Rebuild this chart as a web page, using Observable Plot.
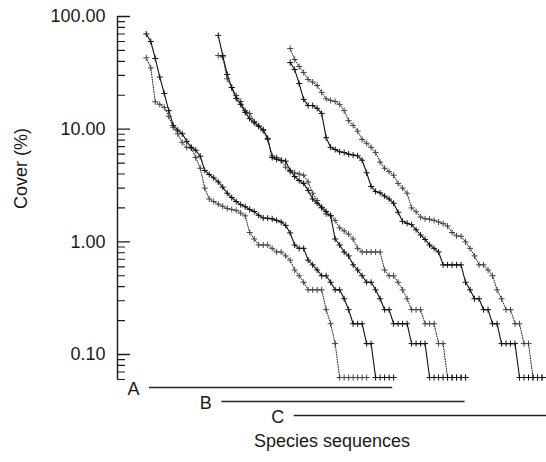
<!DOCTYPE html>
<html><head><meta charset="utf-8">
<script src="https://cdn.jsdelivr.net/npm/d3@7"></script>
<script src="https://cdn.jsdelivr.net/npm/@observablehq/plot@0.6"></script>
<style>
html,body{margin:0;padding:0;background:#fff;overflow:hidden;}
#chart{width:546px;height:462px;}
</style></head><body><div id="chart"></div>
<script>
// ---- data (cover %, by species rank) ----
const groups = ["A", "B", "C"];
const groupShift = [0, 16, 32];          // species-sequence shift of each group
const barStart = [1.7, 17.8, 33.9];      // extent of the A/B/C sequence bars
const barEnd = [55.8, 71.9, 92];

const aSolid = [70, 60, 42.4, 29, 20.7, 14.6, 10.8, 9.8, 9.1, 7.8,
  6.9, 6.5, 5.75, 4.3, 3.96, 3.7, 3.4, 3.06, 2.7, 2.47,
  2.28, 2.14, 2.05, 1.94, 1.86, 1.72, 1.63, 1.62, 1.6, 1.55,
  1.5, 1.4, 1.2, 0.9375, 0.875, 0.875, 0.6875, 0.625, 0.5625, 0.5,
  0.5, 0.4375, 0.375, 0.375, 0.3125, 0.25, 0.1875, 0.1875, 0.1875, 0.125,
  0.125, 0.0625, 0.0625, 0.0625, 0.0625, 0.0625];
const aDotted = [43, 35, 17.5, 16.6, 15.6, 13, 10.4, 9.1, 7.6, 6.9,
  6.8, 5.6, 4.5, 3.0, 2.4, 2.28, 2.16, 2.07, 1.98, 1.94,
  1.9, 1.8, 1.7, 1.21, 1.06, 0.9375, 0.9375, 0.9375, 0.875, 0.8125,
  0.8125, 0.75, 0.6875, 0.5625, 0.5, 0.4375, 0.375, 0.375, 0.375, 0.375,
  0.25, 0.1875, 0.125, 0.0625, 0.0625, 0.0625, 0.0625, 0.0625, 0.0625, 0.0625];
const bSolid = [68, 45, 30.6, 23.4, 18.7, 16.6, 14.1, 12.4, 11.4, 10.6,
  9.9, 8.3, 5.6, 5.4, 5.27, 5.2, 4.3, 3.8, 3.5, 3.3,
  2.86, 2.4, 2.2, 2.03, 1.86, 1.7, 1.06, 0.9375, 0.8125, 0.75,
  0.625, 0.5625, 0.5, 0.4375, 0.4375, 0.375, 0.3125, 0.25, 0.25, 0.1875,
  0.1875, 0.1875, 0.1875, 0.125, 0.125, 0.125, 0.125, 0.0625, 0.0625, 0.0625,
  0.0625, 0.0625, 0.0625, 0.0625, 0.0625, 0.0625];
const bDotted = [45, 43.7, 28, 23.4, 19.9, 17.6, 14.6, 13.8, 11.7, 10.7,
  9.7, 8.1, 5.8, 5.6, 5.3, 4.6, 4.2, 4.1, 4.0, 3.9,
  3.4, 2.7, 2.33, 2.0, 1.77, 1.72, 1.55, 1.33, 1.25, 1.17,
  1.06, 0.875, 0.8125, 0.8125, 0.8125, 0.8125, 0.8125, 0.5625, 0.5, 0.5,
  0.4375, 0.375, 0.3125, 0.25, 0.25, 0.25, 0.1875, 0.1875, 0.1875, 0.125,
  0.125, 0.0625, 0.0625, 0.0625, 0.0625, 0.0625];
const cSolid = [39, 33.8, 25.4, 18.4, 16.2, 16.2, 15.3, 13.8, 8.4, 6.9,
  6.6, 6.3, 6.2, 6.0, 5.9, 5.8, 5.3, 4.1, 3.1, 2.8,
  2.72, 2.55, 2.4, 2.2, 1.83, 1.52, 1.46, 1.42, 1.28, 1.15,
  1.05, 0.9375, 0.875, 0.8125, 0.625, 0.625, 0.625, 0.625, 0.625, 0.4375,
  0.375, 0.3125, 0.3125, 0.25, 0.25, 0.1875, 0.1875, 0.125, 0.125, 0.125,
  0.125, 0.0625, 0.0625, 0.0625, 0.0625, 0.0625, 0.0625, 0.0625];
const cDotted = [52, 41.5, 36, 31.8, 27.6, 26.2, 24.4, 21.2, 18.6, 18,
  17.6, 16.6, 14.6, 11.9, 10.8, 9.6, 8.1, 7.5, 6.9, 6.2,
  5.1, 4.5, 4.2, 3.9, 3.3, 3.0, 2.7, 2.0, 1.85, 1.66,
  1.6, 1.59, 1.55, 1.5, 1.45, 1.38, 1.21, 1.13, 1.12, 1.0,
  0.875, 0.75, 0.625, 0.625, 0.5625, 0.5, 0.375, 0.3125, 0.25, 0.25,
  0.1875, 0.1875, 0.125, 0.125, 0.0625, 0.0625, 0.0625, 0.0625];

const majorTicks = [0.1, 1, 10, 100];
const minorTicks = [0.06, 0.07, 0.08, 0.09,
  0.2, 0.3, 0.4, 0.5, 0.6, 0.7, 0.8, 0.9,
  2, 3, 4, 5, 6, 7, 8, 9,
  20, 30, 40, 50, 60, 70, 80, 90];
const yLabel = "Cover (%)";
const xLabel = "Species sequences";

// ---- build table ----
const series = [
  {group: "A", style: "solid", values: aSolid},
  {group: "A", style: "dotted", values: aDotted},
  {group: "B", style: "solid", values: bSolid},
  {group: "B", style: "dotted", values: bDotted},
  {group: "C", style: "solid", values: cSolid},
  {group: "C", style: "dotted", values: cDotted}
];
const points = series.flatMap(s => s.values.map((v, i) => ({
  key: s.group + s.style, style: s.style,
  x: i + 1 + groupShift[groups.indexOf(s.group)], y: v
})));
const solidPts = points.filter(d => d.style === "solid");
const dottedPts = points.filter(d => d.style === "dotted");
const bars = groups.map((g, i) => ({group: g, start: barStart[i], end: barEnd[i]}));

const xDomain = [-5.4, 90];
const font = "'Liberation Sans', Arial, Helvetica, sans-serif";
const tickRight = {draw(context, l) { context.moveTo(0, 0); context.lineTo(l, 0); }};

const main = Plot.plot({
  width: 546, height: 382,
  marginLeft: 117, marginRight: 0, marginTop: 16, marginBottom: 3,
  style: {fontFamily: font, fontSize: "18px", color: "#1a1a1a", background: "#fff"},
  x: {domain: xDomain, axis: null},
  y: {type: "log", domain: [0.06, 100], axis: null},
  marks: [
    Plot.ruleX([xDomain[0]], {stroke: "#1a1a1a", strokeWidth: 1.4}),
    Plot.vector(majorTicks, {y: d => d, frameAnchor: "left", shape: tickRight, length: 12, anchor: "start", stroke: "#1a1a1a", strokeWidth: 1.3}),
    Plot.vector(minorTicks, {y: d => d, frameAnchor: "left", shape: tickRight, length: 7, anchor: "start", stroke: "#1a1a1a", strokeWidth: 1.1}),
    Plot.axisY({ticks: majorTicks, tickFormat: d3.format(".2f"), tickSize: 0, tickPadding: 12, label: null, fontSize: 18}),
    Plot.text([yLabel], {frameAnchor: "left", rotate: -90, dx: -96, dy: 11, fontSize: 18}),
    Plot.line(dottedPts, {x: "x", y: "y", z: "key", stroke: "#222", strokeWidth: 1, strokeDasharray: "1,1.5"}),
    Plot.line(solidPts, {x: "x", y: "y", z: "key", stroke: "#111", strokeWidth: 1.1}),
    Plot.dot(dottedPts, {x: "x", y: "y", symbol: "plus", r: 2.1, stroke: "#444", strokeWidth: 1}),
    Plot.dot(solidPts, {x: "x", y: "y", symbol: "plus", r: 2.1, stroke: "#111", strokeWidth: 1})
  ]
});

const lower = Plot.plot({
  width: 546, height: 80,
  marginLeft: 117, marginRight: 0, marginTop: 4.5, marginBottom: 46,
  style: {fontFamily: font, fontSize: "18px", color: "#1a1a1a", background: "transparent", overflow: "visible"},
  x: {domain: xDomain, axis: null},
  y: {type: "point", domain: groups, padding: 0, axis: null},
  marks: [
    Plot.ruleY(bars, {y: "group", x1: "start", x2: "end", stroke: "#222", strokeWidth: 1.5}),
    Plot.text(bars, {y: "group", x: "start", text: "group", textAnchor: "end", dx: -10, dy: 1.5, fontSize: 18}),
    Plot.text([xLabel], {frameAnchor: "bottom", dy: 30, fontSize: 18})
  ]
});

const root = document.getElementById("chart");
root.appendChild(main);
root.appendChild(lower);
</script></body></html>
